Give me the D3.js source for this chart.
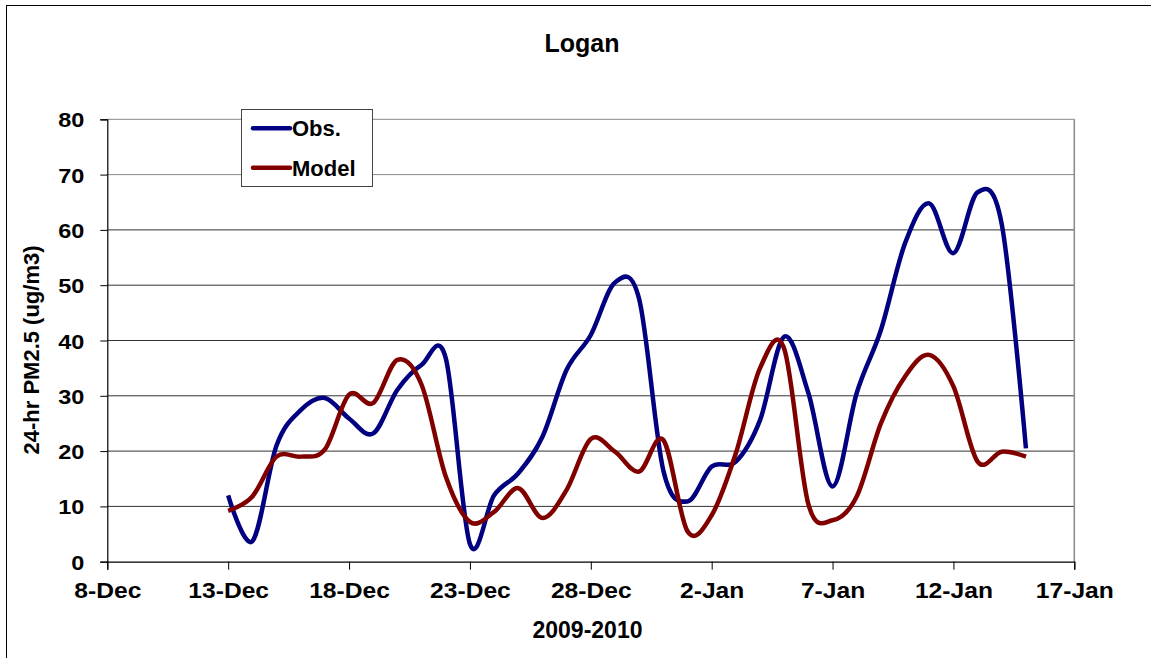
<!DOCTYPE html>
<html><head><meta charset="utf-8">
<script src="https://cdn.jsdelivr.net/npm/d3@7"></script>
<style>
html,body{margin:0;padding:0;background:#fff;}
text{font-family:"Liberation Sans",Arial,sans-serif;font-weight:bold;fill:#000;}
</style></head>
<body>
<svg id="chart" width="1151" height="658"></svg>
<script>
const title = "Logan";
const xTitle = "2009-2010";
const yTitle = "24-hr PM2.5 (ug/m3)";
const seriesNames = ["Obs.", "Model"];
const seriesColors = ["#000080", "#800000"];
const dates = ["2009-12-13","2009-12-14","2009-12-15","2009-12-16","2009-12-17","2009-12-18","2009-12-19","2009-12-20","2009-12-21","2009-12-22","2009-12-23","2009-12-24","2009-12-25","2009-12-26","2009-12-27","2009-12-28","2009-12-29","2009-12-30","2009-12-31","2010-01-01","2010-01-02","2010-01-03","2010-01-04","2010-01-05","2010-01-06","2010-01-07","2010-01-08","2010-01-09","2010-01-10","2010-01-11","2010-01-12","2010-01-13","2010-01-14","2010-01-15"];
const obs = [12, 3.7, 21, 27.4, 29.6, 25.9, 23.2, 31.1, 35.6, 36.8, 3.2, 12, 16, 22.6, 34.7, 41, 50.5, 47.5, 16.5, 10.9, 17.2, 18.1, 25.6, 40.7, 30.5, 13.6, 30.5, 41.9, 57.6, 64.8, 55.8, 66.8, 61, 20.5];
const model = [9.2, 11.8, 19, 19, 20.3, 30.2, 28.7, 36.5, 32, 15.4, 7.2, 9, 13.3, 7.9, 13, 22.2, 19.9, 16.3, 22, 5.5, 8.4, 19.6, 35, 38.5, 10.4, 7.5, 11.8, 25, 33.5, 37.4, 31.7, 18.1, 19.9, 19];
const xDomain = ["2009-12-08", "2010-01-17"];
const xTickStepDays = 5;
const yDomain = [0, 80];
const yTicks = [0, 10, 20, 30, 40, 50, 60, 70, 80];

const svg = d3.select("#chart");
const L = 107.3, R = 1074.3, T = 119.3, B = 561.7;
const parse = d3.utcParse("%Y-%m-%d");
const x0 = parse(xDomain[0]), x1 = parse(xDomain[1]);
const x = d3.scaleUtc().domain([x0, x1]).range([L, R]);
const y = d3.scaleLinear().domain(yDomain).range([B, T]);
const nDays = d3.utcDay.count(x0, x1);
const xTicks = d3.range(0, nDays + 1, xTickStepDays).map(k => d3.utcDay.offset(x0, k));
const fmt = d3.utcFormat("%-d-%b");

// outer chart border
svg.append("rect").attr("x", 6.5).attr("y", 5.5).attr("width", 1300).attr("height", 800)
  .attr("fill", "none").attr("stroke", "#000").attr("stroke-width", 1);

// gridlines
svg.append("g").selectAll("line").data(yTicks.filter(v => v > 0)).join("line")
  .attr("x1", L).attr("x2", R).attr("y1", d => y(d)).attr("y2", d => y(d))
  .attr("stroke", d => d >= 70 ? "#888" : "#333").attr("stroke-width", 1);

// right plot border
svg.append("line").attr("x1", R).attr("x2", R).attr("y1", T).attr("y2", B)
  .attr("stroke", "#888").attr("stroke-width", 1.5);

// y axis
const yAxis = svg.append("g").attr("transform", `translate(${L},0)`)
  .call(d3.axisLeft(y).tickValues(yTicks).tickSize(7).tickPadding(0).tickFormat(d3.format("d")));
yAxis.select(".domain").attr("stroke", "#000").attr("stroke-width", 1.2);
yAxis.selectAll(".tick line").attr("stroke", "#000");
yAxis.selectAll(".tick text").attr("font-size", 21).attr("font-family", null)
  .attr("x", null).attr("dy", null).attr("text-anchor", "end")
  .attr("transform", "translate(-23,7.5) scale(1.12,1)");

// x axis
const xAxis = svg.append("g").attr("transform", `translate(0,${B})`)
  .call(d3.axisBottom(x).tickValues(xTicks).tickSize(8).tickFormat(fmt));
xAxis.select(".domain").attr("stroke", "#000").attr("stroke-width", 1.2);
xAxis.selectAll(".tick line").attr("stroke", "#000");
xAxis.selectAll(".tick text").attr("font-size", 22).attr("font-family", null)
  .attr("y", null).attr("dy", null).attr("text-anchor", "middle")
  .attr("transform", "translate(0,36) scale(1.12,1)");

// lines
const line = d3.line().x(d => x(d[0])).y(d => y(d[1])).curve(d3.curveCatmullRom.alpha(0));
[obs, model].forEach((vals, i) => {
  svg.append("path").datum(dates.map((d, j) => [parse(d), vals[j]]))
    .attr("d", line).attr("fill", "none").attr("stroke", seriesColors[i])
    .attr("stroke-width", 4.5).attr("stroke-linejoin", "round");
});

// legend
const lg = svg.append("g");
lg.append("rect").attr("x", 241.5).attr("y", 109.5).attr("width", 131).attr("height", 77)
  .attr("fill", "#fff").attr("stroke", "#444").attr("stroke-width", 1);
seriesNames.forEach((n, i) => {
  const yy = 128.3 + i * 39.4;
  lg.append("line").attr("x1", 253).attr("x2", 290).attr("y1", yy).attr("y2", yy)
    .attr("stroke", seriesColors[i]).attr("stroke-width", 4.5).attr("stroke-linecap", "round");
  lg.append("text").attr("x", 292).attr("y", yy + 8).attr("font-size", 22).text(n);
});

// titles
svg.append("text").attr("x", 582).attr("y", 52).attr("text-anchor", "middle").attr("font-size", 25).text(title);
svg.append("text").attr("x", 587.5).attr("y", 638).attr("text-anchor", "middle").attr("font-size", 23).text(xTitle);
svg.append("text").attr("transform", "translate(39,350) rotate(-90)").attr("text-anchor", "middle")
  .attr("font-size", 22).text(yTitle);
</script>
</body></html>
